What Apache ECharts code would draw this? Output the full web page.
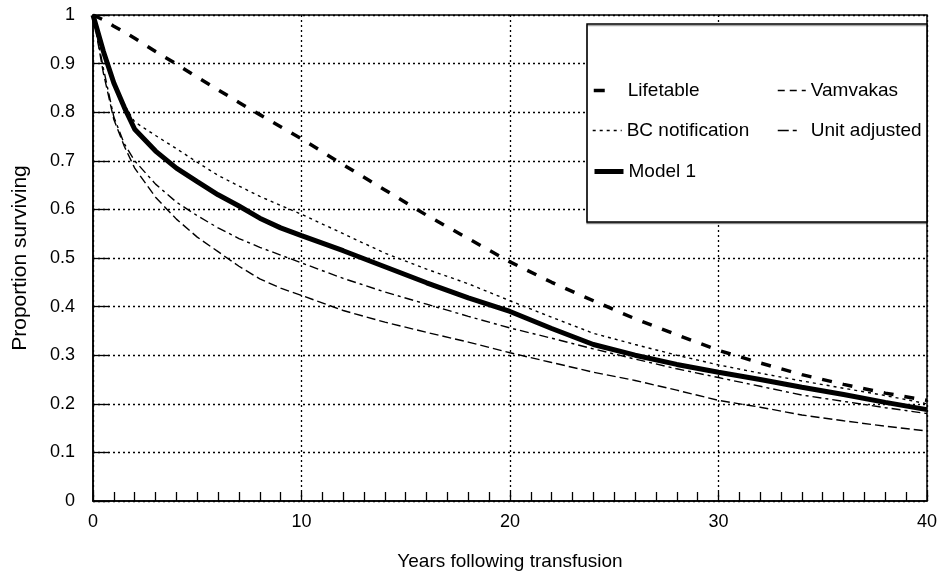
<!DOCTYPE html>
<html><head><meta charset="utf-8">
<script src="https://cdn.jsdelivr.net/npm/echarts@6/dist/echarts.min.js"></script>
<style>html,body{margin:0;padding:0;background:#fff}#c{width:940px;height:578px}</style>
</head><body><div id="c"></div>
<script>
var years = [0,0.5,1,1.5,2,3,4,5,6,7,8,9,10,12,14,16,18,20,22,24,26,28,30,32,34,36,38,40];
var lifetable = [1,0.88,0.785,0.73,0.685,0.625,0.58,0.543,0.513,0.483,0.457,0.438,0.423,0.392,0.368,0.347,0.327,0.305,0.285,0.265,0.248,0.228,0.207,0.193,0.177,0.165,0.154,0.144];
var bcNotification = [1,0.925,0.86,0.815,0.78,0.752,0.725,0.697,0.67,0.648,0.627,0.608,0.59,0.55,0.51,0.477,0.447,0.412,0.378,0.345,0.322,0.3,0.28,0.263,0.247,0.232,0.217,0.2];
var model1 = [1,0.925,0.86,0.81,0.765,0.72,0.685,0.657,0.63,0.607,0.582,0.562,0.546,0.515,0.482,0.449,0.418,0.39,0.355,0.322,0.3,0.281,0.265,0.25,0.234,0.219,0.203,0.188];
var vamvakas = [1,0.99,0.977,0.965,0.952,0.925,0.899,0.872,0.846,0.82,0.795,0.77,0.745,0.692,0.64,0.588,0.54,0.492,0.45,0.412,0.375,0.342,0.31,0.284,0.26,0.24,0.222,0.207];
var unitAdjusted = [1,0.89,0.79,0.735,0.7,0.652,0.615,0.587,0.562,0.54,0.522,0.506,0.49,0.458,0.43,0.405,0.38,0.356,0.335,0.313,0.292,0.272,0.254,0.236,0.218,0.205,0.192,0.18];
var xTickLabels = ['0','10','20','30','40'];
var yTickLabels = ['0','0.1','0.2','0.3','0.4','0.5','0.6','0.7','0.8','0.9','1'];
var seriesNames = ['Lifetable','BC notification','Model 1','Vamvakas','Unit adjusted'];

function pairs(vals){ return years.map(function(y,i){ return [y, vals[i]]; }); }
var FONT = 'Liberation Sans, Arial, sans-serif';
var chart = echarts.init(document.getElementById('c'), null, {renderer:'canvas'});
function leg(name, left, top, w, ls){
  var d = {name: name, itemStyle:{opacity:0}};
  if (ls) d.lineStyle = ls;
  return {show:true, left:left, top:top, orient:'horizontal', itemWidth:w, itemHeight:2, itemGap:0,
    selectedMode:false, z:20, data:[d],
    textStyle:{fontFamily:FONT, fontSize:19, color:'#000'}};
}
chart.setOption({
  animation:false,
  backgroundColor:'#fff',
  grid:{left:93, right:13, top:15, bottom:77, show:true, borderColor:'#000', borderWidth:1.5, backgroundColor:'transparent'},
  xAxis:{type:'value', min:0, max:40, interval:10,
    name:'Years following transfusion', nameLocation:'middle', nameGap:51,
    nameTextStyle:{fontFamily:FONT, fontSize:19, color:'#000'},
    axisLine:{show:true, lineStyle:{color:'#000', width:1.5}},
    axisTick:{show:true, inside:true, length:9, lineStyle:{color:'#000', width:1.3}},
    minorTick:{show:true, splitNumber:10, length:9, lineStyle:{color:'#000', width:1.3}},
    splitLine:{show:true, lineStyle:{color:'#000', width:1.3, type:[2,3]}},
    axisLabel:{margin:12, fontFamily:FONT, fontSize:18, color:'#000',
      formatter:function(v){ return xTickLabels[Math.round(v/10)]; }}
  },
  yAxis:{type:'value', min:0, max:1, interval:0.1,
    name:'Proportion surviving', nameLocation:'middle', nameGap:62,
    nameTextStyle:{fontFamily:FONT, fontSize:21, color:'#000'},
    axisLine:{show:true, lineStyle:{color:'#000', width:1.5}},
    axisTick:{show:true, inside:true, length:16, lineStyle:{color:'#000', width:1.3}},
    splitLine:{show:true, lineStyle:{color:'#000', width:1.3, type:[2,3]}},
    axisLabel:{margin:18, fontFamily:FONT, fontSize:18, color:'#000',
      formatter:function(v){ return yTickLabels[Math.round(v*10)]; }}
  },
  graphic:[{type:'rect', z:15, shape:{x:587, y:24, width:340, height:198},
    style:{fill:'#fff', stroke:'#000', lineWidth:1.5, shadowColor:'rgba(0,0,0,0.35)', shadowOffsetY:1.5, shadowOffsetX:0, shadowBlur:0}}],
  legend:[
    leg(seriesNames[0], 587, 76, 29, {width:3.5, type:[11,100], color:'#000'}),
    leg(seriesNames[1], 587, 116, 29, {width:1.4, type:[3,4], color:'#000'}),
    leg(seriesNames[2], 587, 157, 29, {width:5, type:'solid', color:'#000'}),
    leg(seriesNames[3], 772, 76, 28, {width:1.5, type:[7,5], color:'#000'}),
    leg(seriesNames[4], 772, 116, 28, {width:1.5, type:[11,4,4,20], color:'#000'})
  ],
  series:[
    {name:seriesNames[0], type:'line', symbol:'none', data:pairs(lifetable), z:3,
      itemStyle:{color:'#000'}, lineStyle:{color:'#000', width:1.4, type:[9,4]}},
    {name:seriesNames[1], type:'line', symbol:'none', data:pairs(bcNotification), z:3,
      itemStyle:{color:'#000'}, lineStyle:{color:'#000', width:1.4, type:[3,4]}},
    {name:seriesNames[2], type:'line', symbol:'none', data:pairs(model1), z:4,
      itemStyle:{color:'#000'}, lineStyle:{color:'#000', width:5}},
    {name:seriesNames[3], type:'line', symbol:'none', data:pairs(vamvakas), z:3,
      itemStyle:{color:'#000'}, lineStyle:{color:'#000', width:3.5, type:[10,11]}},
    {name:seriesNames[4], type:'line', symbol:'none', data:pairs(unitAdjusted), z:3,
      itemStyle:{color:'#000'}, lineStyle:{color:'#000', width:1.4, type:[9,4,3,4]}}
  ]
});
</script></body></html>
